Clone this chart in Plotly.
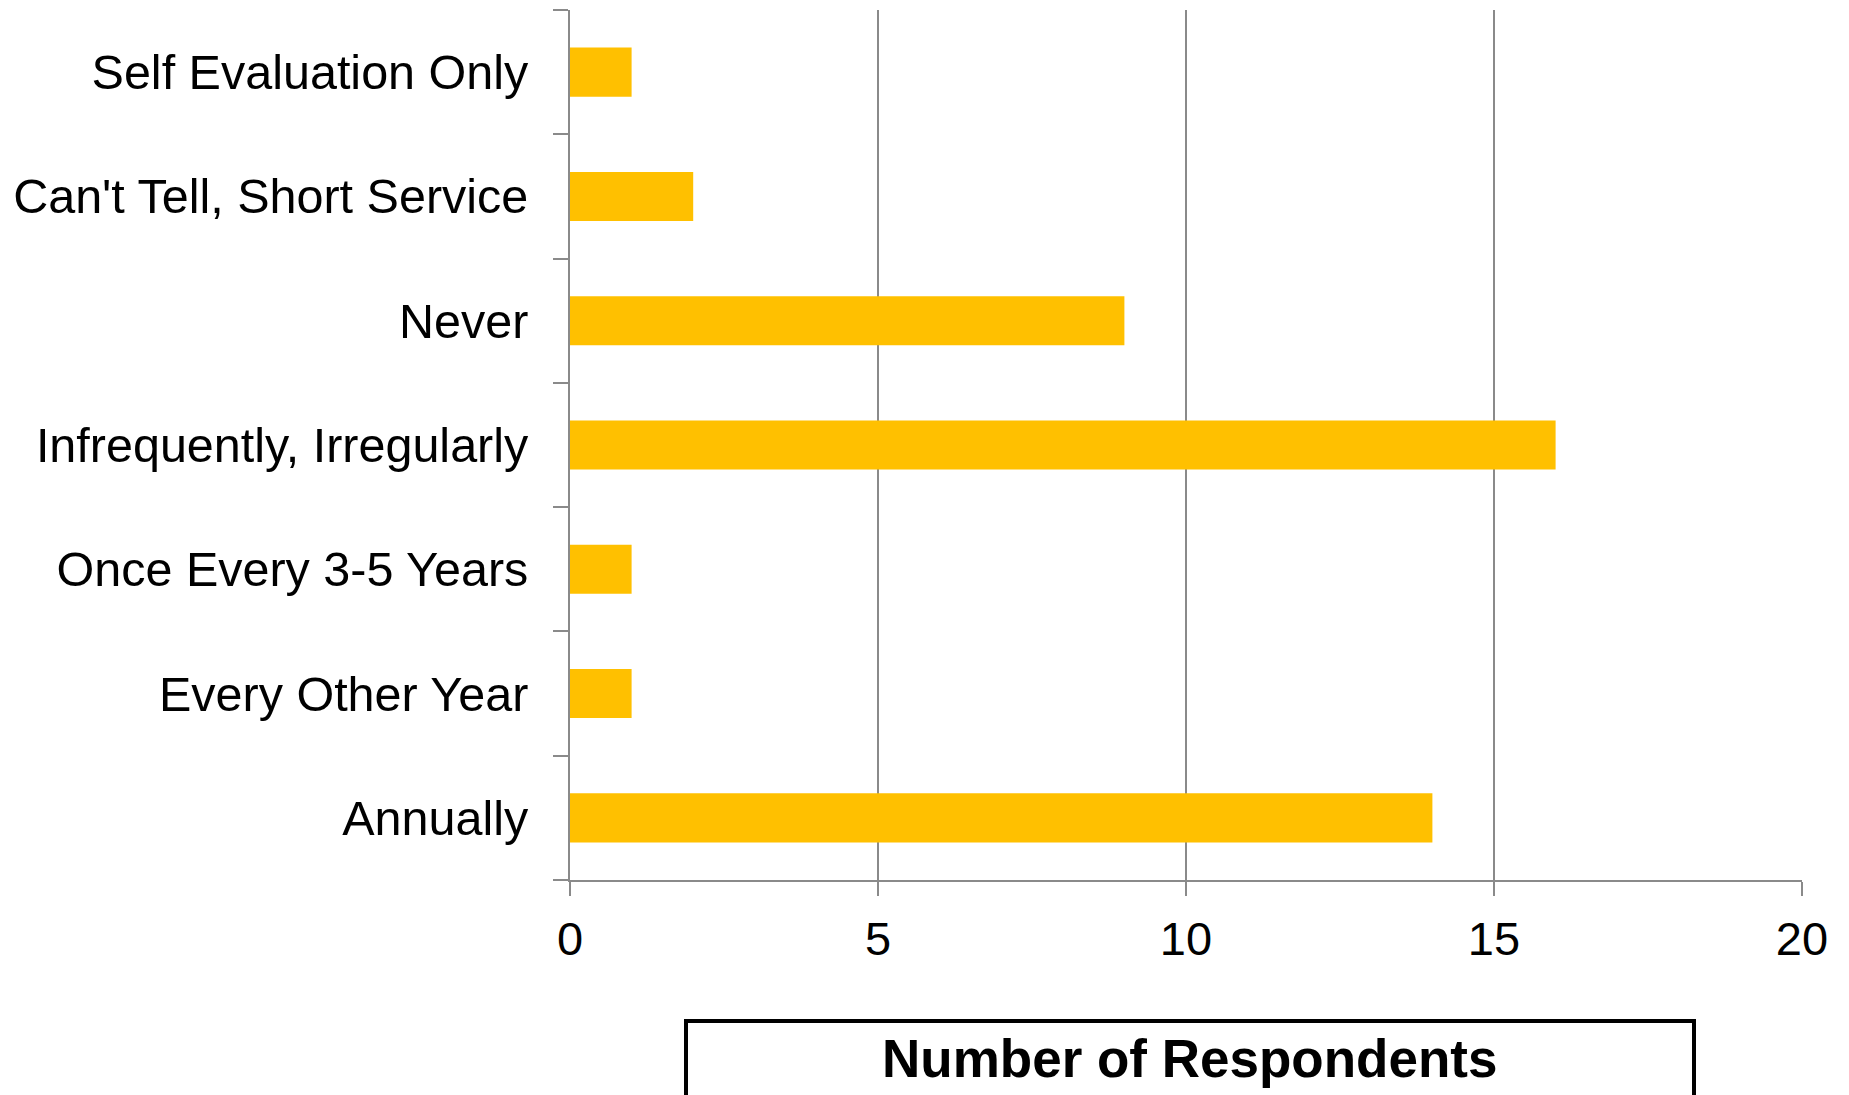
import plotly.graph_objects as go

categories = ["Annually", "Every Other Year", "Once Every 3-5 Years",
              "Infrequently, Irregularly", "Never", "Can't Tell, Short Service",
              "Self Evaluation Only"]
values = [14, 1, 1, 16, 9, 2, 1]
x_ticks = [0, 5, 10, 15, 20]
x_title = "Number of Respondents"

W, H = 1849, 1095
OFF = 8  # default page body margin
ml, mr, mt, mb = 570 - OFF, 47 + OFF, 2, 215 + OFF
pw, ph = W - ml - mr, H - mt - mb

fig = go.Figure(go.Bar(
    x=values, y=categories, orientation="h",
    marker=dict(color="#FFC000", line=dict(width=0)),
))

axis_col = "#8a8a8a"
fig.update_layout(
    width=W, height=H,
    margin=dict(l=ml, r=mr, t=mt, b=mb, pad=0),
    paper_bgcolor="white", plot_bgcolor="white",
    bargap=0.605,
    showlegend=False,
    font=dict(family="Liberation Sans, Arial, sans-serif", color="black"),
    xaxis=dict(
        range=[0, 20], tickvals=x_ticks, ticktext=[str(v) for v in x_ticks],
        showgrid=True, gridcolor=axis_col, gridwidth=2,
        showline=True, linecolor=axis_col, linewidth=2,
        ticks="outside", ticklen=14, tickwidth=2, tickcolor=axis_col,
        tickfont=dict(size=47, color="black"),
        ticklabelstandoff=3, zeroline=False, fixedrange=True,
    ),
    yaxis=dict(
        type="category", categoryorder="array", categoryarray=categories,
        showgrid=False, showline=True, linecolor=axis_col, linewidth=2,
        ticks="outside", ticklen=15, tickwidth=2, tickcolor=axis_col,
        tickson="boundaries",
        tickfont=dict(size=48.5, color="black"),
        ticklabelstandoff=30, fixedrange=True,
    ),
)

# boxed axis title below the chart (page pixel coords converted to paper)
def px_x(p):
    return (p - OFF - ml) / pw

def px_y(p):
    return (H - (p - OFF) - mb) / ph

fig.add_shape(type="rect", xref="paper", yref="paper",
              x0=px_x(686), x1=px_x(1694), y0=px_y(1021), y1=-0.5,
              line=dict(color="black", width=4), fillcolor="rgba(0,0,0,0)")
fig.add_annotation(text="<b>" + x_title + "</b>", xref="paper", yref="paper",
                   x=px_x(1189), y=px_y(1058),
                   xanchor="center", yanchor="middle", showarrow=False,
                   font=dict(size=53, color="black",
                             family="Liberation Sans, Arial, sans-serif"))

fig.write_html("out.html", config={"displayModeBar": False})
